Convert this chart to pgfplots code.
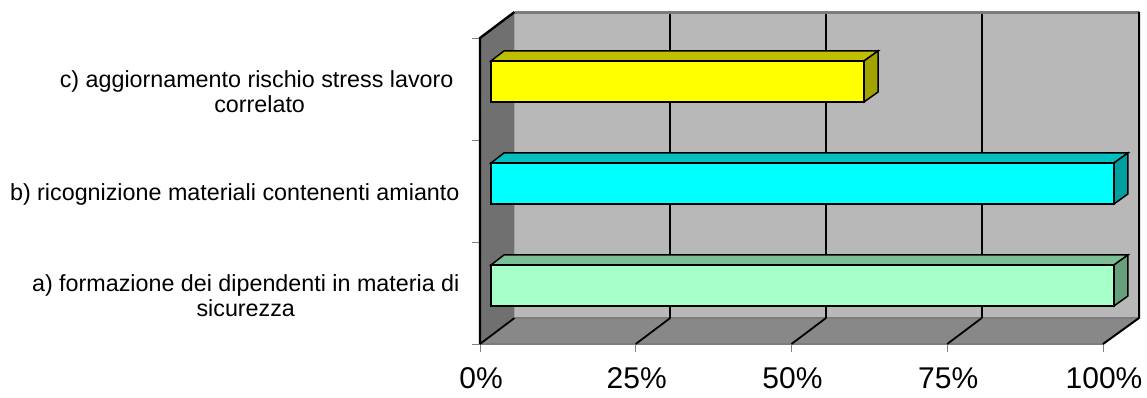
\documentclass[border=0pt]{standalone}
\usepackage{fontspec}
\setmainfont{Liberation Sans}
\usepackage{pgfplots}
\pgfplotsset{compat=1.18}
\definecolor{wallback}{HTML}{B8B8B8}
\definecolor{wallleft}{HTML}{707070}
\definecolor{wallfloor}{HTML}{888888}
\definecolor{edgegray}{HTML}{7C7C7C}
\definecolor{yfront}{HTML}{FFFF00}
\definecolor{ytop}{HTML}{BFBF00}
\definecolor{yside}{HTML}{A3A300}
\definecolor{cfront}{HTML}{00FFFF}
\definecolor{ctop}{HTML}{00BFBF}
\definecolor{cside}{HTML}{009F9F}
\definecolor{gfront}{HTML}{A6FFC6}
\definecolor{gtop}{HTML}{7CBF94}
\definecolor{gside}{HTML}{68A07C}
\begin{document}
\begin{tikzpicture}[x=1pt,y=1pt]
\path[use as bounding box] (0,0) rectangle (1147,398);
\begin{axis}[
  at={(480pt,54pt)}, anchor=south west,
  scale only axis, width=623pt, height=306pt,
  xmin=0, xmax=100, ymin=0, ymax=3,
  clip=false,
  axis line style={draw=none},
  tick align=outside, tick pos=left,
  major tick length=8pt,
  every tick/.style={draw=gray, line width=0.8pt},
  xtick={0,25,50,75,100},
  xticklabels={0\%,25\%,50\%,75\%,100\%},
  xticklabel style={font=\fontsize{30}{32}\selectfont, yshift=-15pt, xshift=1pt, inner sep=0pt},
  ytick={0,1,2,3},
  yticklabels={},
  extra y ticks={0.5,1.5,2.5},
  extra y tick labels={{a) formazione dei dipendenti in materia di\\sicurezza},{b) ricognizione materiali contenenti amianto},{c) aggiornamento rischio stress lavoro\hspace*{6pt}\\correlato}},
  extra y tick style={major tick length=0pt, yticklabel style={align=center, font=\fontsize{23.3}{25}\selectfont, xshift=-17pt, yshift=-3pt}},
]
% walls
\addplot[fill=wallback, draw=none] coordinates {(5.54,0.255)(105.78,0.255)(105.78,3.255)(5.54,3.255)} -- cycle;
\addplot[fill=wallleft, draw=none] coordinates {(0,0)(5.54,0.255)(5.54,3.255)(0,3)} -- cycle;
\addplot[fill=wallfloor, draw=none] coordinates {(0,0)(100,0)(105.78,0.255)(5.54,0.255)} -- cycle;
% edges
\addplot[edgegray, line width=2.5pt] coordinates {(5.54,3.25)(105.78,3.25)};
\addplot[edgegray, line width=2pt] coordinates {(5.54,0.255)(105.78,0.255)};
\addplot[edgegray, line width=2.5pt] coordinates {(0,0)(100,0)};
\addplot[black, line width=2.4pt] coordinates {(0,0)(0,3)(5.54,3.255)};
\addplot[black, line width=2pt] coordinates {(105.78,3.255)(105.78,0.255)(100,0)};
% grid
\addplot[black, line width=2.4pt] coordinates {(30.54,0.255)(30.54,3.24)};
\addplot[black, line width=2.4pt] coordinates {(55.54,0.255)(55.54,3.24)};
\addplot[black, line width=2.4pt] coordinates {(80.54,0.255)(80.54,3.24)};
\addplot[black, line width=1.8pt] coordinates {(0,0)(5.54,0.255)};
\addplot[black, line width=1.8pt] coordinates {(25,0)(30.54,0.255)};
\addplot[black, line width=1.8pt] coordinates {(50,0)(55.54,0.255)};
\addplot[black, line width=1.8pt] coordinates {(75,0)(80.54,0.255)};
% a) 100%
\addplot[fill=gtop, draw=black, line width=1.5pt] coordinates {(1.77,0.775)(3.85,0.873)(104.0,0.873)(101.77,0.775)} -- cycle;
\addplot[fill=gside, draw=black, line width=1.5pt] coordinates {(101.77,0.373)(104.0,0.471)(104.0,0.873)(101.77,0.775)} -- cycle;
\addplot[fill=gfront, draw=black, line width=2pt] coordinates {(1.77,0.373)(101.77,0.373)(101.77,0.775)(1.77,0.775)} -- cycle;
% b) 100%
\addplot[fill=ctop, draw=black, line width=1.5pt] coordinates {(1.77,1.775)(3.85,1.873)(104.0,1.873)(101.77,1.775)} -- cycle;
\addplot[fill=cside, draw=black, line width=1.5pt] coordinates {(101.77,1.373)(104.0,1.471)(104.0,1.873)(101.77,1.775)} -- cycle;
\addplot[fill=cfront, draw=black, line width=2pt] coordinates {(1.77,1.373)(101.77,1.373)(101.77,1.775)(1.77,1.775)} -- cycle;
% c) 60%
\addplot[fill=ytop, draw=black, line width=1.5pt] coordinates {(1.77,2.775)(3.85,2.873)(63.9,2.873)(61.64,2.775)} -- cycle;
\addplot[fill=yside, draw=black, line width=1.5pt] coordinates {(61.64,2.373)(63.9,2.471)(63.9,2.873)(61.64,2.775)} -- cycle;
\addplot[fill=yfront, draw=black, line width=2pt] coordinates {(1.77,2.373)(61.64,2.373)(61.64,2.775)(1.77,2.775)} -- cycle;
\end{axis}
\end{tikzpicture}
\end{document}
